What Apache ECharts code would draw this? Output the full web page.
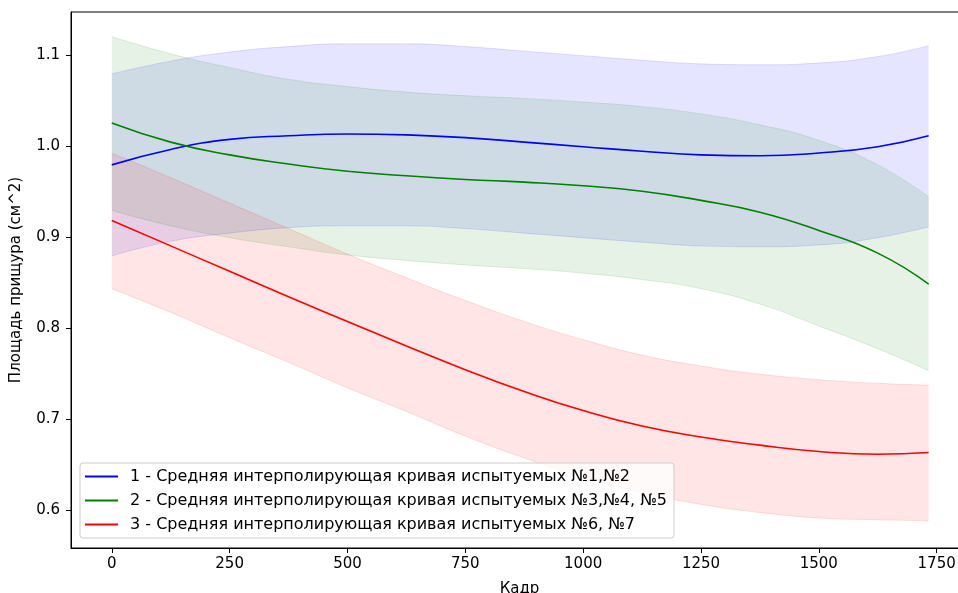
<!DOCTYPE html>
<html><head><meta charset="utf-8">
<script src="https://cdn.jsdelivr.net/npm/echarts@6/dist/echarts.min.js"></script>
<style>html,body{margin:0;padding:0;background:#fff}#c{width:958px;height:593px}</style>
</head><body><div id="c"></div>
<script>
const xs = [0,125,250,375,500,625,750,875,1000,1125,1250,1375,1500,1625,1733];
const blueMean  = [0.979,0.996,1.007,1.011,1.013,1.012,1.009,1.004,0.999,0.994,0.990,0.989,0.992,0.999,1.011];
const blueUpper = [1.079,1.093,1.103,1.109,1.112,1.112,1.109,1.104,1.099,1.094,1.090,1.089,1.091,1.098,1.110];
const blueLower = [0.879,0.895,0.904,0.910,0.912,0.912,0.909,0.904,0.899,0.894,0.890,0.889,0.891,0.899,0.911];
const greenMean  = [1.025,1.004,0.990,0.980,0.972,0.967,0.963,0.960,0.956,0.950,0.940,0.927,0.907,0.882,0.848];
const greenUpper = [1.120,1.101,1.086,1.073,1.065,1.059,1.055,1.052,1.048,1.043,1.035,1.023,1.006,0.979,0.944];
const greenLower = [0.929,0.912,0.899,0.889,0.880,0.874,0.869,0.865,0.860,0.853,0.843,0.826,0.802,0.777,0.753];
const redMean  = [0.918,0.890,0.862,0.834,0.807,0.780,0.754,0.730,0.709,0.692,0.680,0.671,0.664,0.661,0.663];
const redUpper = [0.992,0.965,0.937,0.909,0.881,0.855,0.830,0.807,0.787,0.770,0.758,0.749,0.743,0.739,0.737];
const redLower = [0.843,0.817,0.789,0.762,0.734,0.708,0.681,0.657,0.636,0.619,0.606,0.597,0.591,0.589,0.588];
const xTicks = [0,250,500,750,1000,1250,1500,1750];
const yTicks = [0.6,0.7,0.8,0.9,1.0,1.1];
const names = [
  '1 - Средняя интерполирующая кривая испытуемых №1,№2',
  '2 - Средняя интерполирующая кривая испытуемых №3,№4, №5',
  '3 - Средняя интерполирующая кривая испытуемых №6, №7'
];
const xTitle = 'Кадр';
const yTitle = 'Площадь прищура (см^2)';

const pts = arr => xs.map((x,i)=>[x,arr[i]]);
// band data stored as [y, x] so that the stacked dimension is y
const ptsYX = arr => xs.map((x,i)=>[arr[i],x]);
const diffYX = (u,l) => xs.map((x,i)=>[+(u[i]-l[i]).toFixed(4),x]);
const SM = 0.5;
function band(id, upper, lower, rgb){
  return [
    {type:'line', name:id+'_lo', stack:id, data:ptsYX(lower), encode:{x:1,y:0}, dimensions:['v','x'], smooth:SM, symbol:'none', silent:true,
     lineStyle:{color:'rgba('+rgb+',0.12)', width:1}, z:1},
    {type:'line', name:id+'_hi', stack:id, data:diffYX(upper,lower), encode:{x:1,y:0}, dimensions:['v','x'], smooth:SM, symbol:'none', silent:true,
     lineStyle:{color:'rgba('+rgb+',0.12)', width:1}, areaStyle:{color:'rgba('+rgb+',0.1)', opacity:1}, z:1}
  ];
}
const font = 'DejaVu Sans';
const FS = 15;
const chart = echarts.init(document.getElementById('c'), null, {renderer:'canvas'});
chart.setOption({
  animation:false,
  textStyle:{fontFamily:font},
  grid:{left:71, top:12, width:897, height:536, show:true, borderColor:'#000', borderWidth:1, containLabel:false, outerBoundsMode:'none'},
  xAxis:{type:'value', min:-86.5, max:1816.5, name:xTitle, nameLocation:'middle', nameGap:34,
    nameTextStyle:{fontFamily:font, fontSize:FS, color:'#000'},
    axisLine:{show:true, onZero:false, lineStyle:{color:'#000', width:1}},
    axisTick:{show:true, length:5, customValues:xTicks, lineStyle:{color:'#000', width:1}},
    axisLabel:{customValues:xTicks, formatter:v=>String(v), margin:9, fontFamily:font, fontSize:FS, color:'#000'},
    splitLine:{show:false}},
  yAxis:{type:'value', min:0.558, max:1.147, name:yTitle, nameLocation:'middle', nameGap:47, nameRotate:90,
    nameTextStyle:{fontFamily:font, fontSize:FS, color:'#000'},
    axisLine:{show:true, onZero:false, lineStyle:{color:'#000', width:1}},
    axisTick:{show:true, length:5, customValues:yTicks, lineStyle:{color:'#000', width:1}},
    axisLabel:{customValues:yTicks, formatter:v=>v.toFixed(1), margin:11, fontFamily:font, fontSize:FS, color:'#000'},
    splitLine:{show:false}},
  legend:{data:names, orient:'vertical', left:80, top:463, icon:'rect', itemWidth:33, itemHeight:2,
    itemGap:7, padding:[5,7,5,5], backgroundColor:'rgba(255,255,255,0.8)', borderColor:'#cccccc', borderWidth:1, borderRadius:3,
    textStyle:{fontFamily:font, fontSize:16, color:'#000', lineHeight:17, padding:[0,0,0,7]}},
  series:[
    ...band('b', blueUpper, blueLower, '0,0,255'),
    ...band('g', greenUpper, greenLower, '0,128,0'),
    ...band('r', redUpper, redLower, '255,0,0'),
    {type:'line', name:names[0], data:pts(blueMean), smooth:SM, symbol:'none', lineStyle:{color:'#0000ff', width:1.6}, itemStyle:{color:'#0000ff'}, z:5},
    {type:'line', name:names[1], data:pts(greenMean), smooth:SM, symbol:'none', lineStyle:{color:'#008000', width:1.6}, itemStyle:{color:'#008000'}, z:5},
    {type:'line', name:names[2], data:pts(redMean), smooth:SM, symbol:'none', lineStyle:{color:'#ff0000', width:1.6}, itemStyle:{color:'#ff0000'}, z:5}
  ]
});
</script></body></html>
